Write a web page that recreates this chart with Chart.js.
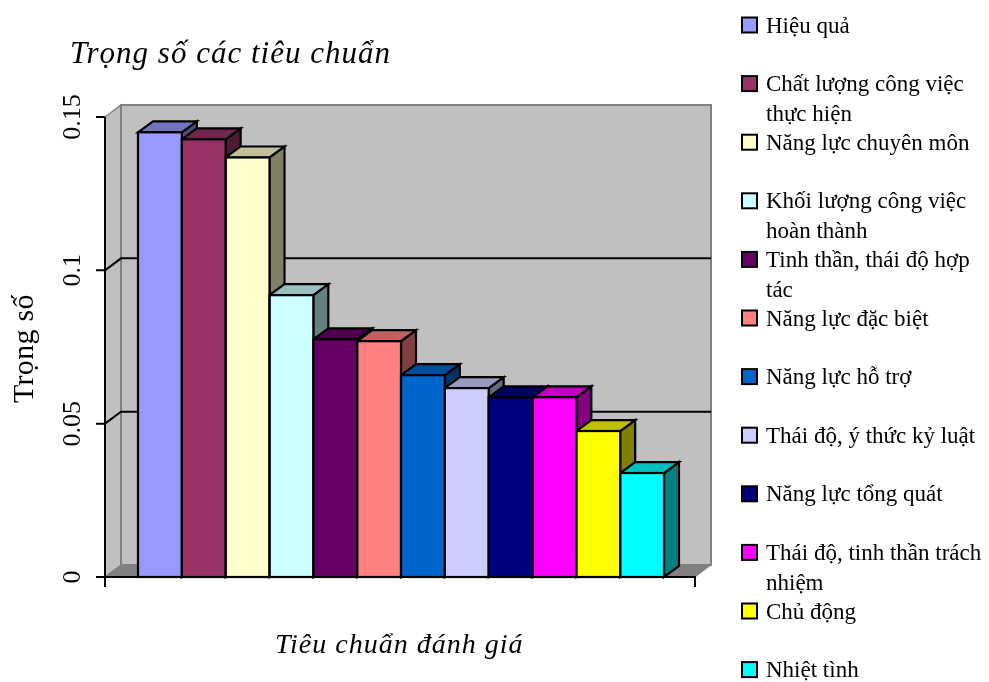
<!DOCTYPE html>
<html>
<head>
<meta charset="utf-8">
<script src="https://cdn.jsdelivr.net/npm/chart.js@4"></script>
<style>
html, body { margin: 0; padding: 0; background: #fff; }
</style>
</head>
<body>
<canvas id="myChart" width="989" height="682"></canvas>
<script>
// data
const categories = [
    "Hiệu quả",
    "Chất lượng công việc\nthực hiện",
    "Năng lực chuyên môn",
    "Khối lượng công việc\nhoàn thành",
    "Tinh thần, thái độ hợp\ntác",
    "Năng lực đặc biệt",
    "Năng lực hỗ trợ",
    "Thái độ, ý thức kỷ luật",
    "Năng lực tổng quát",
    "Thái độ, tinh thần trách\nnhiệm",
    "Chủ động",
    "Nhiệt tình"
];
const weights = [0.145, 0.1427, 0.1368, 0.0919, 0.0775, 0.0769, 0.0658, 0.0616, 0.0586, 0.0586, 0.0476, 0.0339];
const barColors = ["#9999FF", "#993366", "#FFFFCC", "#CCFFFF", "#660066", "#FF8080",
                   "#0066CC", "#CCCCFF", "#000080", "#FF00FF", "#FFFF00", "#00FFFF"];
const yTicks = [0, 0.05, 0.1, 0.15];
const yTickLabels = ["0", "0.05", "0.1", "0.15"];
const gridValues = [0.05, 0.1];

const chartTitle = "Trọng số các tiêu chuẩn";
const xTitle = "Tiêu chuẩn đánh giá";
const yTitle = "Trọng số";

const FONT = '"Liberation Serif", "Times New Roman", serif';
const WDX = 16, WDY = -12;   // wall depth
const BDX = 15, BDY = -11;   // bar depth

function shade(hex, f) {
    var n = parseInt(hex.slice(1), 16);
    var r = Math.round(((n >> 16) & 255) * f);
    var g = Math.round(((n >> 8) & 255) * f);
    var b = Math.round((n & 255) * f);
    return "rgb(" + r + "," + g + "," + b + ")";
}

function poly(ctx, pts, fill, stroke, lw) {
    ctx.beginPath();
    ctx.moveTo(pts[0][0], pts[0][1]);
    for (var i = 1; i < pts.length; i++) ctx.lineTo(pts[i][0], pts[i][1]);
    ctx.closePath();
    if (fill) { ctx.fillStyle = fill; ctx.fill(); }
    if (stroke) { ctx.strokeStyle = stroke; ctx.lineWidth = lw; ctx.stroke(); }
}

function frontEdges(chart) {
    var ca = chart.chartArea;
    return { fl: ca.left - 33, fr: ca.right + 31 };
}

function barBoxes(chart) {
    return chart.getDatasetMeta(0).data.map(function (el) {
        var p = el.getProps(["x", "y", "base", "width"], true);
        return { L: p.x - p.width / 2, R: p.x + p.width / 2, top: p.y, base: p.base };
    });
}

const excel3d = {
    id: "excel3d",
    beforeDatasetsDraw(chart) {
        var ctx = chart.ctx, ys = chart.scales.y;
        var e = frontEdges(chart), fl = e.fl, fr = e.fr;
        var y0 = ys.getPixelForValue(0), yTop = ys.getPixelForValue(0.15);
        ctx.save();
        ctx.lineJoin = "miter";
        // walls and floor
        poly(ctx, [[fl, yTop], [fl + WDX, yTop + WDY], [fl + WDX, y0 + WDY], [fl, y0]], "#C0C0C0", "#808080", 1.5);
        poly(ctx, [[fl + WDX, yTop + WDY], [fr + WDX, yTop + WDY], [fr + WDX, y0 + WDY], [fl + WDX, y0 + WDY]], "#C0C0C0", "#808080", 2);
        poly(ctx, [[fl, y0], [fl + WDX, y0 + WDY], [fr + WDX, y0 + WDY], [fr, y0]], "#808080", "#808080", 1);
        // gridlines
        ctx.strokeStyle = "#000";
        ctx.lineWidth = 2;
        gridValues.forEach(function (v) {
            var py = ys.getPixelForValue(v);
            ctx.beginPath();
            ctx.moveTo(fl, py);
            ctx.lineTo(fl + WDX, py + WDY);
            ctx.lineTo(fr + WDX, py + WDY);
            ctx.stroke();
        });
        // side and top faces, left to right
        barBoxes(chart).forEach(function (b, i) {
            var c = barColors[i];
            poly(ctx, [[b.R, b.top], [b.R + BDX, b.top + BDY], [b.R + BDX, b.base + BDY], [b.R, b.base]], shade(c, 0.5), "#000", 2.2);
            poly(ctx, [[b.L, b.top], [b.L + BDX, b.top + BDY], [b.R + BDX, b.top + BDY], [b.R, b.top]], shade(c, 0.75), "#000", 2.2);
        });
        ctx.restore();
    },
    afterDatasetsDraw(chart) {
        var ctx = chart.ctx, ys = chart.scales.y;
        var e = frontEdges(chart), fl = e.fl, fr = e.fr;
        var y0 = ys.getPixelForValue(0), yTop = ys.getPixelForValue(0.15);
        ctx.save();
        ctx.strokeStyle = "#000";
        ctx.lineWidth = 2.2;
        barBoxes(chart).forEach(function (b) {
            ctx.strokeRect(b.L, b.top, b.R - b.L, b.base - b.top);
        });
        // axes
        ctx.lineWidth = 2;
        ctx.beginPath();
        ctx.moveTo(fl, yTop);
        ctx.lineTo(fl, y0 + 10);
        ctx.moveTo(fl, y0);
        ctx.lineTo(fr, y0);
        ctx.lineTo(fr, y0 + 10);
        yTicks.forEach(function (v) {
            var py = ys.getPixelForValue(v);
            ctx.moveTo(fl - 9, py);
            ctx.lineTo(fl, py);
        });
        ctx.stroke();
        // tick labels, rotated
        ctx.fillStyle = "#000";
        ctx.font = "26px " + FONT;
        ctx.textAlign = "center";
        ctx.textBaseline = "alphabetic";
        yTicks.forEach(function (v, i) {
            var py = ys.getPixelForValue(v);
            ctx.save();
            ctx.translate(80, py);
            ctx.rotate(-Math.PI / 2);
            ctx.fillText(yTickLabels[i], 0, 0);
            ctx.restore();
        });
        ctx.restore();
    },
    afterDraw(chart) {
        var ctx = chart.ctx;
        ctx.save();
        ctx.fillStyle = "#000";
        ctx.textBaseline = "alphabetic";
        ctx.textAlign = "left";
        // titles
        ctx.font = "italic 31px " + FONT;
        ctx.letterSpacing = "1px";
        ctx.fillText(chartTitle, 70, 63);
        ctx.font = "italic 28px " + FONT;
        ctx.letterSpacing = "1px";
        ctx.fillText(xTitle, 275, 653);
        ctx.font = "30px " + FONT;
        ctx.letterSpacing = "0.3px";
        ctx.save();
        ctx.translate(33, 403);
        ctx.rotate(-Math.PI / 2);
        ctx.fillText(yTitle, 0, 0);
        ctx.restore();
        // legend
        ctx.font = "23px " + FONT;
        ctx.letterSpacing = "0px";
        categories.forEach(function (name, i) {
            var cy = 25 + i * 58.6;
            ctx.fillStyle = barColors[i];
            ctx.fillRect(742, cy - 7.5, 15, 15);
            ctx.strokeStyle = "#000";
            ctx.lineWidth = 2;
            ctx.strokeRect(742, cy - 7.5, 15, 15);
            ctx.fillStyle = "#000";
            name.split("\n").forEach(function (line, k) {
                ctx.fillText(line, 766, cy + 7.5 + k * 30);
            });
        });
        ctx.restore();
    }
};

new Chart(document.getElementById("myChart"), {
    type: "bar",
    data: {
        labels: categories,
        datasets: [{
            data: weights,
            backgroundColor: barColors,
            borderWidth: 0,
            categoryPercentage: 1,
            barPercentage: 1
        }]
    },
    options: {
        responsive: false,
        animation: false,
        events: [],
        layout: { padding: { left: 138, right: 325, top: 117, bottom: 105 } },
        plugins: {
            legend: { display: false },
            title: { display: false },
            tooltip: { enabled: false }
        },
        scales: {
            x: { display: false },
            y: { display: false, min: 0, max: 0.15 }
        }
    },
    plugins: [excel3d]
});
</script>
</body>
</html>
